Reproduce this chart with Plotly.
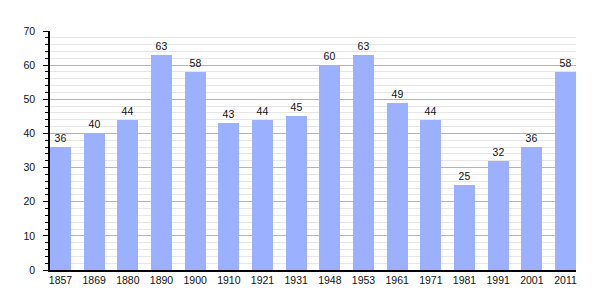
import plotly.graph_objects as go

years = ["1857", "1869", "1880", "1890", "1900", "1910", "1921", "1931",
         "1948", "1953", "1961", "1971", "1981", "1991", "2001", "2011"]
values = [36, 40, 44, 63, 58, 43, 44, 45, 60, 63, 49, 44, 25, 32, 36, 58]

pos = list(range(len(years)))
bw = 0.624

fig = go.Figure()
fig.add_trace(go.Bar(
    x=pos, y=values, width=bw,
    marker=dict(color="#9bb0ff", line=dict(width=0)),
    text=[str(v) for v in values], textposition="outside",
    textfont=dict(size=10.5, color="#111", family="Liberation Sans, Arial, sans-serif"),
    cliponaxis=False,
))

fig.update_layout(
    width=605, height=300,
    margin=dict(l=50, r=29, t=31, b=30),
    paper_bgcolor="white", plot_bgcolor="white",
    showlegend=False,
    font=dict(family="Liberation Sans, Arial, sans-serif", size=10.5, color="#111"),
    bargap=0,
)
fig.update_xaxes(
    range=[-bw / 2, len(years) - 1 + bw / 2],
    tickmode="array", tickvals=pos, ticktext=years,
    showgrid=False, zeroline=False,
    showline=True, linecolor="black", linewidth=1.5,
    ticks="", ticklen=0, tickfont=dict(size=10.5),
)
fig.update_yaxes(
    range=[0, 70], dtick=10, tick0=0,
    showgrid=True, gridcolor="#b4b4b4", gridwidth=1,
    zeroline=False,
    showline=True, linecolor="black", linewidth=1.5,
    ticks="outside", ticklen=5, tickcolor="black", tickwidth=1,
    tickfont=dict(size=10.5), ticklabelstandoff=6,
    minor=dict(dtick=2, showgrid=True, gridcolor="#e6e6e6", gridwidth=1,
               ticks="outside", ticklen=3, tickcolor="black", tickwidth=1),
)

fig.write_html("out.html")
